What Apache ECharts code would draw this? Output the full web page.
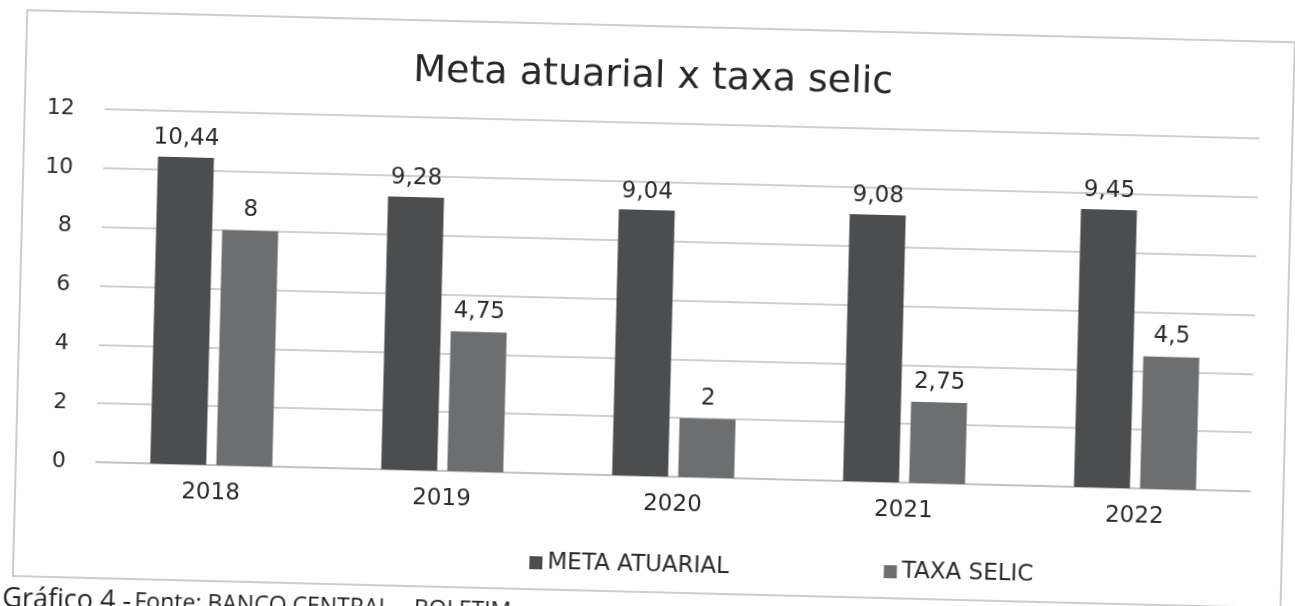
<!DOCTYPE html>
<html lang="pt-BR">
<head>
    <meta charset="UTF-8">
    <title>Meta atuarial x taxa selic</title>
    <script src="https://cdn.jsdelivr.net/npm/echarts@6.0.0/dist/echarts.min.js"></script>
    <style>
        html, body {
            margin: 0;
            padding: 0;
            background: #fff;
            overflow: hidden;
            width: 1295px;
            height: 606px;
        }

        /* a bit larger than the window so the tilted page still fills the corners */
        #chart {
            width: 1335px;
            height: 660px;
            margin-left: -20px;
            margin-top: -27px;
            /* the scan is slightly tilted */
            transform: rotate(1.45deg);
            transform-origin: 50% 50%;
        }
    </style>
</head>
<body>
    <div id="chart"></div>

    <script>
        // dados
        var anos = ['2018', '2019', '2020', '2021', '2022'];
        var metaAtuarial = [10.44, 9.28, 9.04, 9.08, 9.45];
        var taxaSelic = [8, 4.75, 2, 2.75, 4.5];
        var nomes = ['META ATUARIAL', 'TAXA SELIC'];

        var fonte = 'DejaVu Sans';
        var corTexto = '#2b2b2b';

        function virgula(p) {
            return String(p.value).replace('.', ',');
        }

        var myChart = echarts.init(document.getElementById('chart'));

        myChart.setOption({
            animation: false,
            backgroundColor: '#fff',
            title: {
                text: 'Meta atuarial x taxa selic',
                left: 'center',
                top: 80,
                textStyle: {
                    fontFamily: fonte,
                    fontSize: 38,
                    fontWeight: 'normal',
                    color: '#262626'
                }
            },
            legend: {
                data: nomes,
                left: 551,
                top: 576,
                itemWidth: 13,
                itemHeight: 13,
                itemGap: 155,
                icon: 'rect',
                textStyle: {
                    fontFamily: fonte,
                    fontSize: 23,
                    color: corTexto
                }
            },
            grid: {
                left: 120,
                right: 60,
                top: 150,
                bottom: 157
            },
            xAxis: {
                type: 'category',
                data: anos,
                axisTick: { show: false },
                axisLine: { lineStyle: { color: '#bfbfbf', width: 1.5 } },
                axisLabel: {
                    margin: 17,
                    fontFamily: fonte,
                    fontSize: 23,
                    color: corTexto
                }
            },
            yAxis: {
                type: 'value',
                min: 0,
                max: 12,
                interval: 2,
                axisLabel: {
                    margin: 30,
                    fontFamily: fonte,
                    fontSize: 22,
                    color: corTexto
                },
                splitLine: { lineStyle: { color: '#bfbfbf', width: 1.5 } }
            },
            graphic: [
                {
                    type: 'rect',
                    shape: { x: 40, y: 53, width: 1268, height: 566 },
                    style: { fill: 'none', stroke: '#bdbdbd', lineWidth: 1.5 },
                    silent: true
                },
                {
                    type: 'text',
                    x: 30,
                    y: 629,
                    style: {
                        text: '{a|Gráfico 4 -} {b|Fonte: BANCO CENTRAL – BOLETIM}',
                        fill: '#222',
                        verticalAlign: 'top',
                        rich: {
                            a: { fontFamily: 'Open Sans', fontSize: 27, fill: '#222' },
                            b: { fontFamily: 'Open Sans', fontSize: 23, fill: '#222' }
                        }
                    }
                }
            ],
            series: [
                {
                    name: nomes[0],
                    type: 'bar',
                    data: metaAtuarial,
                    barWidth: 56,
                    barGap: '18%',
                    itemStyle: { color: '#4b4d4f' },
                    label: {
                        show: true,
                        position: 'top',
                        distance: 7,
                        formatter: virgula,
                        fontFamily: fonte,
                        fontSize: 23,
                        color: corTexto
                    }
                },
                {
                    name: nomes[1],
                    type: 'bar',
                    data: taxaSelic,
                    barWidth: 56,
                    itemStyle: { color: '#6c6e70' },
                    label: {
                        show: true,
                        position: 'top',
                        distance: 9,
                        formatter: virgula,
                        fontFamily: fonte,
                        fontSize: 23,
                        color: corTexto
                    }
                }
            ]
        });
    </script>
</body>
</html>
